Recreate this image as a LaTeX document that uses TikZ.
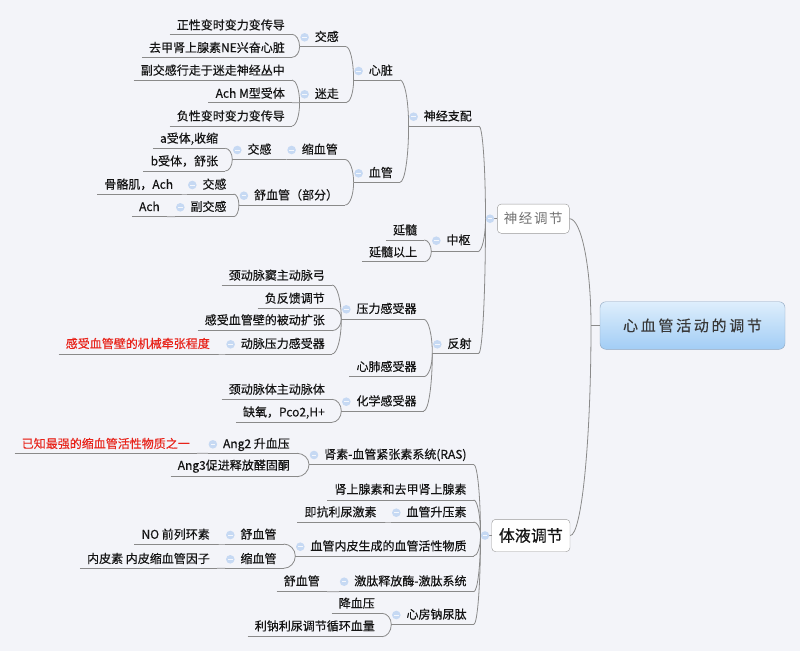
\documentclass[tikz,border=0pt]{standalone}
\usepackage{fontspec}
\setmainfont{Noto Sans CJK SC}[FakeBold=0.35]
\newfontfamily\rootfont{Noto Sans CJK SC}[LetterSpace=18,FakeBold=0.3]
\newfontfamily\sjfont{Noto Sans CJK SC}[LetterSpace=12]
\usetikzlibrary{calc}
\definecolor{bgc}{HTML}{F3F4F9}
\definecolor{lncol}{HTML}{8A8A8A}
\definecolor{tx}{HTML}{141414}
\definecolor{redt}{HTML}{E8231A}
\definecolor{icf}{HTML}{C6D9F3}
\definecolor{icm}{HTML}{F4F7FC}
\definecolor{boxb}{HTML}{9A9A9A}
\definecolor{grayt}{HTML}{707070}
\definecolor{rtop}{HTML}{DEEEFC}
\definecolor{rbot}{HTML}{A2CDF5}
\definecolor{rbd}{HTML}{8FA6C0}
\tikzset{
  txt/.style={inner sep=0pt, text height=0.8em, text depth=0.05em, font=\fontsize{12}{14}\selectfont, text=tx},
  lk/.style={draw=lncol, line width=0.8pt},
  iconfill/.style={fill=icf},
  iconminus/.style={draw=icm, line width=0.9pt}
}
\newcommand\mmleaf[6][tx]{%
  \node[txt,anchor=east,text=#1] (#2) at (#3,#4) {#6};
  \path ([xshift=-7pt]#2.west) coordinate (#2-t);
  \coordinate (#2-l) at (#2-t |- 0,#5);
  \coordinate (#2-r) at (#3+7,#5);
  \draw[lk] (#2-l) -- (#2-r);
}
\newcommand\mmicon[1]{%
  \fill[iconfill] (#1) circle[radius=4.3pt];
  \draw[iconminus] ([xshift=-2.2pt]#1) -- ([xshift=2.2pt]#1);
}
\newcommand\mmpar[5]{%
  \node[txt,anchor=east] (#1) at (#2,#3) {#5};
  \path ([xshift=-15pt]#1.west) coordinate (#1-t);
  \coordinate (#1-l) at (#1-t |- 0,#4);
  \coordinate (#1-r) at (#2+7,#4);
  \draw[lk] (#1-l) -- (#1-r);
  \path ([xshift=-10pt]#1.west) coordinate (#1-i);
  \coordinate (#1-c) at (#1-i |- 0,#3);
  \mmicon{#1-c}
}
\newcommand\mmconn[2]{%
  \coordinate (cc) at (#2-l |- #1-r);
  \draw[lk] (#1-r) .. controls ($(#1-r)!0.55!(cc)$) and ($(#2-l)!0.55!(cc)$) .. (#2-l);
}
\begin{document}
\begin{tikzpicture}[x=1pt,y=-1pt]
\fill[bgc] (0,0) rectangle (800,651);
\useasboundingbox (0,0) rectangle (800,651);

% ---- 心脏
\mmleaf{zx1}{285}{25.7}{34.3}{正性变时变力变传导}
\mmleaf{zx2}{285}{48.3}{57.3}{去甲肾上腺素NE兴奋心脏}
\mmpar{jg1}{339}{37.3}{46.7}{交感}
\mmleaf{mz1}{285}{71}{80}{副交感行走于迷走神经丛中}
\mmleaf{mz2}{285}{94}{102.7}{Ach M型受体}
\mmleaf{mz3}{285}{116.7}{126}{负性变时变力变传导}
\mmpar{mz}{339}{94.3}{102.7}{迷走}
\mmpar{xz}{393}{71}{80}{心脏}
% ---- 血管
\mmleaf{a1}{218.3}{139}{148.3}{a受体,收缩}
\mmleaf{b1}{218.3}{161.7}{171}{b受体，舒张}
\mmpar{jg2}{271.7}{150}{159.5}{交感}
\mmpar{sxg}{338}{150}{159.5}{缩血管}
\mmleaf{gg}{173.3}{185}{194}{骨骼肌，Ach}
\mmpar{jg3}{226.7}{185}{194}{交感}
\mmleaf{ach}{160}{207.3}{216.7}{Ach}
\mmpar{fjg}{226.7}{207.3}{216.7}{副交感}
\mmpar{sxg2}{338.3}{195.7}{205}{舒血管（部分）}
\mmpar{xg}{393}{173.3}{182.3}{血管}
\mmpar{sjzp}{472}{116.7}{126}{神经支配}
% ---- 中枢
\mmleaf{ys}{417.3}{230.7}{240}{延髓}
\mmleaf{ysys}{417.3}{252.7}{261.7}{延髓以上}
\mmpar{zs}{470.7}{240.7}{251.7}{中枢}
% ---- 反射
\mmleaf{yl1}{325}{276}{285}{颈动脉窦主动脉弓}
\mmleaf{yl2}{325}{299}{308.3}{负反馈调节}
\mmleaf{yl3}{325}{320.7}{330.7}{感受血管壁的被动扩张}
\mmleaf[redt]{red1}{210}{344.3}{354}{感受血管壁的机械牵张程度}
\mmpar{dmyl}{325}{344.3}{354}{动脉压力感受器}
\mmpar{ylgsq}{416.7}{309.3}{319.3}{压力感受器}
\mmleaf{xf}{416.7}{367.3}{376.7}{心肺感受器}
\mmleaf{hx1}{325}{390}{399.3}{颈动脉体主动脉体}
\mmleaf{hx2}{325}{412.7}{422.3}{缺氧，Pco2,H+}
\mmpar{hxgsq}{416.7}{401.7}{411}{化学感受器}
\mmpar{fs}{471.7}{344.3}{353.3}{反射}
% ---- 体液
\mmleaf[redt]{red2}{190}{444.3}{453.3}{已知最强的缩血管活性物质之一}
\mmpar{ang2}{290}{444.3}{453.3}{Ang2 升血压}
\mmleaf{ang3}{290}{466}{476.7}{Ang3促进释放醛固酮}
\mmpar{ras}{466.7}{455}{464.5}{肾素-血管紧张素系统(RAS)}
\mmleaf{ss}{466.7}{490}{500}{肾上腺素和去甲肾上腺素}
\mmleaf{kl}{376.7}{512.7}{522}{即抗利尿激素}
\mmpar{xgsy}{466.7}{512.7}{522}{血管升压素}
\mmleaf{no}{210}{535}{544}{NO 前列环素}
\mmpar{sxg3}{276.7}{535}{544}{舒血管}
\mmleaf{nps}{210}{559.3}{568.3}{内皮素 内皮缩血管因子}
\mmpar{sxg4}{276.7}{559.3}{568.3}{缩血管}
\mmpar{xgnp}{466.7}{546.7}{556}{血管内皮生成的血管活性物质}
\mmleaf{sxg5}{320}{581.7}{591.7}{舒血管}
\mmpar{jt}{466.7}{581.7}{591.7}{激肽释放酶-激肽系统}
\mmleaf{jxy}{375}{604}{613.3}{降血压}
\mmleaf{lnl}{375}{626.7}{636.7}{利钠利尿调节循环血量}
\mmpar{xfn}{466.7}{615}{624.5}{心房钠尿肽}

% ---- main branches
\node[draw=boxb, fill=white, rounded corners=4pt, minimum width=72pt, minimum height=29.3pt, inner sep=0pt, text=grayt, font=\sjfont\fontsize{13.5}{15}\selectfont] (sjtj) at (533.3,218.7) {神经调节};
\coordinate (sjtj-l) at (485.5,218.7);
\coordinate (sjtj-r) at (sjtj.east);
\coordinate (sjtj-c) at (490,218.7);
\draw[lk] (sjtj-l) -- (sjtj.west);
\mmicon{sjtj-c}

\node[draw=boxb, fill=white, rounded corners=4pt, minimum width=78.3pt, minimum height=32.4pt, inner sep=0pt, text=tx, font=\fontsize{16}{18}\selectfont] (tytj) at (530.85,535.5) {体液调节};
\coordinate (tytj-l) at (480.5,535.5);
\coordinate (tytj-r) at (tytj.east);
\coordinate (tytj-c) at (485,535.5);
\draw[lk] (tytj-l) -- (tytj.west);
\mmicon{tytj-c}

\node[draw=rbd, top color=rtop, bottom color=rbot, rounded corners=6pt, minimum width=185pt, minimum height=47.6pt, inner sep=0pt, text=black!78, font=\rootfont\fontsize{15}{18}\selectfont] (root) at (692.5,325.5) {心血管活动的调节};
\coordinate (root-l) at (591,325.5);
\draw[lk] (root-l) -- (root.west);

% ---- connectors
\mmconn{zx1}{jg1}\mmconn{zx2}{jg1}
\mmconn{mz1}{mz}\mmconn{mz2}{mz}\mmconn{mz3}{mz}
\mmconn{jg1}{xz}\mmconn{mz}{xz}
\mmconn{a1}{jg2}\mmconn{b1}{jg2}
\mmconn{jg2}{sxg}
\mmconn{gg}{jg3}\mmconn{ach}{fjg}
\mmconn{jg3}{sxg2}\mmconn{fjg}{sxg2}
\mmconn{sxg}{xg}\mmconn{sxg2}{xg}
\mmconn{xz}{sjzp}\mmconn{xg}{sjzp}
\mmconn{ys}{zs}\mmconn{ysys}{zs}
\mmconn{red1}{dmyl}
\mmconn{yl1}{ylgsq}\mmconn{yl2}{ylgsq}\mmconn{yl3}{ylgsq}\mmconn{dmyl}{ylgsq}
\mmconn{hx1}{hxgsq}\mmconn{hx2}{hxgsq}
\mmconn{ylgsq}{fs}\mmconn{xf}{fs}\mmconn{hxgsq}{fs}
\mmconn{sjzp}{sjtj}\mmconn{zs}{sjtj}\mmconn{fs}{sjtj}
\mmconn{red2}{ang2}
\mmconn{ang2}{ras}\mmconn{ang3}{ras}
\mmconn{kl}{xgsy}
\mmconn{no}{sxg3}\mmconn{nps}{sxg4}
\mmconn{sxg3}{xgnp}\mmconn{sxg4}{xgnp}
\mmconn{sxg5}{jt}
\mmconn{jxy}{xfn}\mmconn{lnl}{xfn}
\mmconn{ras}{tytj}\mmconn{ss}{tytj}\mmconn{xgsy}{tytj}\mmconn{xgnp}{tytj}\mmconn{jt}{tytj}\mmconn{xfn}{tytj}
\mmconn{sjtj}{root}\mmconn{tytj}{root}
\end{tikzpicture}
\end{document}
